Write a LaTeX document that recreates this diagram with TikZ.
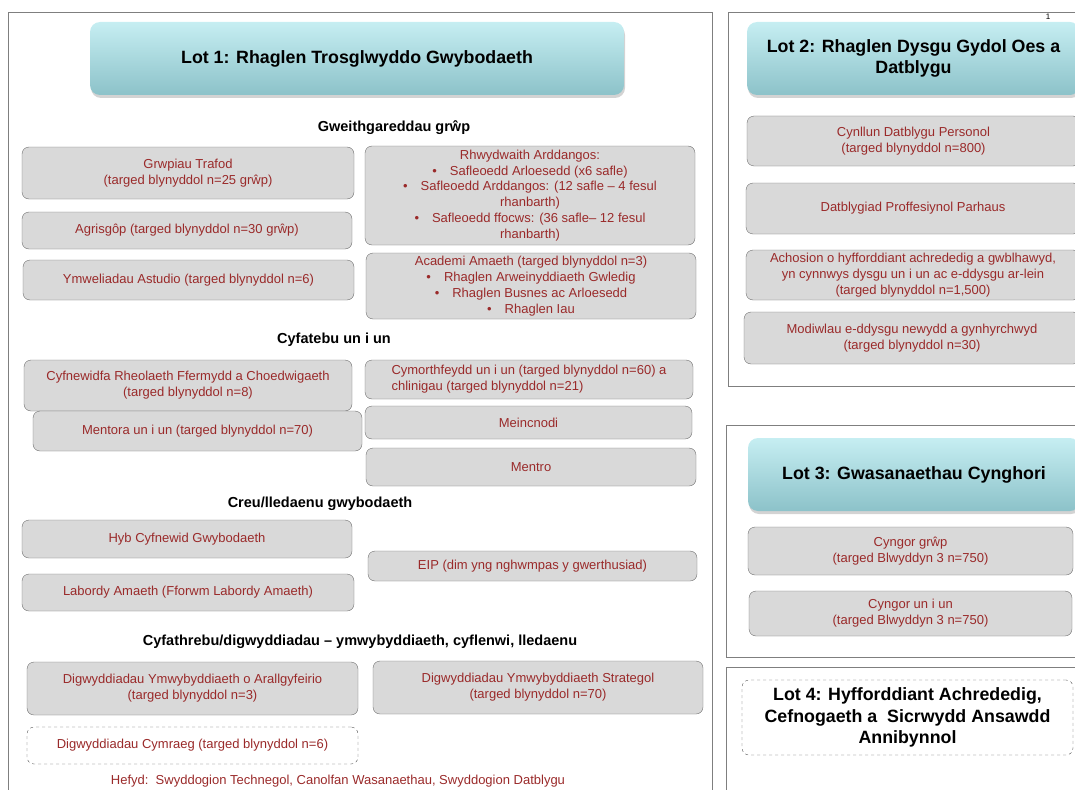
\documentclass[tikz,border=0pt]{standalone}
\usepackage{fontspec}
\setmainfont{Liberation Sans}
\usetikzlibrary{shadows}
\definecolor{boxgray}{HTML}{D9D9D9}
\definecolor{boxline}{HTML}{6E6E6E}
\definecolor{dashline}{HTML}{505050}
\definecolor{txtred}{HTML}{9A2A2A}
\definecolor{headtop}{HTML}{C6EEF2}
\definecolor{headbot}{HTML}{8CC2C9}
\definecolor{framegray}{HTML}{7F7F7F}

\begin{document}
\begin{tikzpicture}[x=1pt,y=-1pt,
  block/.style={rectangle,rounded corners=7pt,draw=boxline,fill=boxgray,text=txtred,align=center,font=\fontsize{13}{15.8}\selectfont,inner sep=2pt},
  dashblock/.style={block,fill=white,draw=dashline,dashed},
  lothead/.style={rectangle,rounded corners=10pt,top color=headtop,bottom color=headbot,drop shadow={opacity=0.35,shadow xshift=1pt,shadow yshift=-3pt},align=center,font=\fontsize{17.8}{21}\selectfont\bfseries},
  secthead/.style={font=\fontsize{14.5}{16}\selectfont\bfseries},
  frame/.style={draw=framegray,line width=0.9pt}]
\useasboundingbox (0,0) rectangle (1075,789);
\clip (0,0) rectangle (1075,789);

% frames
\draw[frame] (8,12) rectangle (712,800);
\draw[frame] (728,12) rectangle (1085,386);
\draw[frame] (726,425) rectangle (1085,657);
\draw[frame] (726,667) rectangle (1085,800);
\node[font=\fontsize{8}{8}\selectfont] (pagenum) at (1048,17) {1};

% Lot 1
\path
(357,58.5) node [lothead,minimum width=534pt,minimum height=73pt] (lotone) {Lot 1: Rhaglen Trosglwyddo Gwybodaeth}
(394,128) node [secthead] (grwp) {Gweithgareddau grŵp}
(188,173) node [block,minimum width=332pt,minimum height=52pt] (trafod) {Grwpiau Trafod\\(targed blynyddol n=25 grŵp)}
(187,230.5) node [block,minimum width=330pt,minimum height=37pt] (agris) {Agrisgôp (targed blynyddol n=30 grŵp)}
(188.5,280) node [block,minimum width=331pt,minimum height=40pt] (ymwel) {Ymweliadau Astudio (targed blynyddol n=6)}
(530,195.5) node [block,minimum width=330pt,minimum height=99pt] (rhwyd) {Rhwydwaith Arddangos:\\
  •\quad Safleoedd Arloesedd (x6 safle)\\
  •\quad Safleoedd Arddangos: (12 safle – 4 fesul\\ rhanbarth)\\
  •\quad Safleoedd ffocws: (36 safle– 12 fesul\\ rhanbarth)}
(531,286) node [block,minimum width=330pt,minimum height=66pt] (academi) {Academi Amaeth (targed blynyddol n=3)\\
  •\quad Rhaglen Arweinyddiaeth Gwledig\\
  •\quad Rhaglen Busnes ac Arloesedd\\
  •\quad Rhaglen Iau}
;

\path
(334,340) node [secthead] (unun) {Cyfatebu un i un}
(188,385.5) node [block,minimum width=328pt,minimum height=51pt] (cyfnew) {Cyfnewidfa Rheolaeth Ffermydd a Choedwigaeth\\(targed blynyddol n=8)}
(197.5,431) node [block,minimum width=329pt,minimum height=40pt] (mentora) {Mentora un i un (targed blynyddol n=70)}
(529,379.5) node [block,minimum width=328pt,minimum height=39pt,align=left] (cymorth) {Cymorthfeydd un i un (targed blynyddol n=60) a\\chlinigau (targed blynyddol n=21)}
(528.5,422.5) node [block,minimum width=327pt,minimum height=33pt] (meinc) {Meincnodi}
(531,467) node [block,minimum width=330pt,minimum height=38pt] (mentro) {Mentro}
;

\path
(320,504) node [secthead] (creu) {Creu/lledaenu gwybodaeth}
(187,539) node [block,minimum width=330pt,minimum height=38pt] (hyb) {Hyb Cyfnewid Gwybodaeth}
(188,592.5) node [block,minimum width=332pt,minimum height=37pt] (labordy) {Labordy Amaeth (Fforwm Labordy Amaeth)}
(532.5,566) node [block,minimum width=329pt,minimum height=30pt] (eip) {EIP (dim yng nghwmpas y gwerthusiad)}
;

\path
(360,642) node [secthead] (cyfath) {Cyfathrebu/digwyddiadau – ymwybyddiaeth, cyflenwi, lledaenu}
(192.5,688.5) node [block,minimum width=331pt,minimum height=53pt] (arall) {Digwyddiadau Ymwybyddiaeth o Arallgyfeirio\\(targed blynyddol n=3)}
(538,687.5) node [block,minimum width=330pt,minimum height=53pt] (strateg) {Digwyddiadau Ymwybyddiaeth Strategol\\(targed blynyddol n=70)}
(192.5,745.5) node [dashblock,minimum width=331pt,minimum height=37pt] (cymraeg) {Digwyddiadau Cymraeg (targed blynyddol n=6)}
(338,781) node [text=txtred,font=\fontsize{13}{15}\selectfont] (hefyd) {Hefyd:\ \ Swyddogion Technegol, Canolfan Wasanaethau, Swyddogion Datblygu}
;

% Lot 2
\path
(913.5,58.5) node [lothead,minimum width=333pt,minimum height=73pt] (lottwo) {Lot 2: Rhaglen Dysgu Gydol Oes a\\Datblygu}
(913.5,141) node [block,minimum width=333pt,minimum height=50pt] (cynllun) {Cynllun Datblygu Personol\\(targed blynyddol n=800)}
(913,208.5) node [block,minimum width=334pt,minimum height=51pt] (datblyg) {Datblygiad Proffesiynol Parhaus}
(913,275) node [block,minimum width=334pt,minimum height=50pt] (achos) {Achosion o hyfforddiant achrededig a gwblhawyd,\\yn cynnwys dysgu un i un ac e-ddysgu ar-lein\\(targed blynyddol n=1,500)}
(912,338) node [block,minimum width=336pt,minimum height=52pt] (modiw) {Modiwlau e-ddysgu newydd a gynhyrchwyd\\(targed blynyddol n=30)}
;

% Lot 3
\path
(914,474.5) node [lothead,minimum width=332pt,minimum height=73pt] (lotthree) {Lot 3: Gwasanaethau Cynghori}
(910.5,551) node [block,minimum width=325pt,minimum height=48pt] (cyngrwp) {Cyngor grŵp\\(targed Blwyddyn 3 n=750)}
(910.5,613.5) node [block,minimum width=323pt,minimum height=45pt] (cyngun) {Cyngor un i un\\(targed Blwyddyn 3 n=750)}
;

% Lot 4
\path
(907.5,717.5) node [dashblock,text=black,minimum width=331pt,minimum height=75pt,font=\fontsize{17.8}{21.5}\selectfont\bfseries] (lotfour) {Lot 4: Hyfforddiant Achrededig,\\Cefnogaeth a\ \ Sicrwydd Ansawdd\\Annibynnol}
;
\end{tikzpicture}
\end{document}
